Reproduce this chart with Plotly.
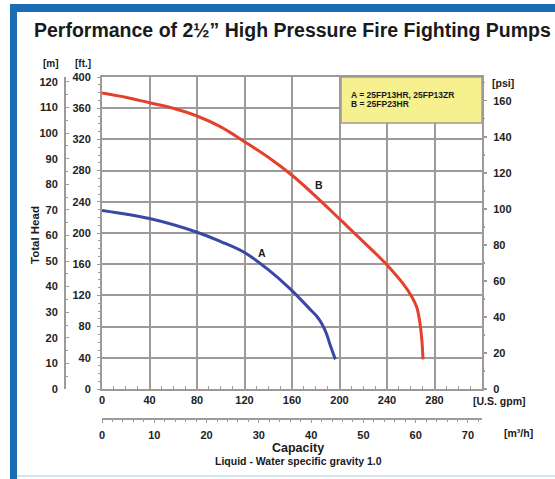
import plotly.graph_objects as go

# ---------------- data ----------------
# Curve A = 25FP13HR, 25FP13ZR   (capacity in U.S. gpm, total head in ft)
gpm_A = [0, 40, 80, 100, 120, 140, 158, 176, 181, 185, 189, 192, 196.5]
ft_A = [229, 218.5, 201, 189, 175, 153, 129, 101, 93, 84, 71, 57, 38]

# Curve B = 25FP23HR
gpm_B = [0, 20, 40, 60, 80, 100, 120, 140, 160, 180, 200, 220, 240, 253.5, 261, 265, 267.5, 269.4, 270.3]
ft_B = [379.5, 374, 367, 360, 350, 336, 317, 297, 274, 247, 218, 189, 159, 135, 118, 105, 87, 62, 38]

gpm_ticks = [0, 40, 80, 120, 160, 200, 240, 280]
ft_ticks = [0, 40, 80, 120, 160, 200, 240, 280, 320, 360, 400]
m_ticks = [0, 10, 20, 30, 40, 50, 60, 70, 80, 90, 100, 110, 120]
psi_ticks = [0, 20, 40, 60, 80, 100, 120, 140, 160]
m3h_ticks = [0, 10, 20, 30, 40, 50, 60, 70]

legend_lines = ["A = 25FP13HR, 25FP13ZR", "B = 25FP23HR"]

GPM_MAX = 320.0
FT_MAX = 400.0
FT_PER_M = 3.28084
FT_PER_PSI = 2.31
GPM_PER_M3H = 4.402868

# ---------------- layout helpers (pixel -> paper) ----------------
W, H = 555, 479
def fx(p):
    return p / W
def fy(p):
    return 1 - p / H

GRID = "rgb(158,154,154)"
FONT = "Liberation Sans, Arial, sans-serif"
tickfont = dict(family=FONT, size=11, color="#222", weight="bold")

fig = go.Figure()
fig.add_trace(go.Scatter(x=gpm_A, y=ft_A, mode="lines",
                         line=dict(color="#3a48a4", width=3, shape="spline", smoothing=1.0),
                         hoverinfo="skip", showlegend=False))
fig.add_trace(go.Scatter(x=gpm_B, y=ft_B, mode="lines",
                         line=dict(color="#e4402c", width=3, shape="spline", smoothing=1.0),
                         hoverinfo="skip", showlegend=False))
# empty traces to create the secondary axes
fig.add_trace(go.Scatter(x=[], y=[], xaxis="x", yaxis="y2", showlegend=False, hoverinfo="skip"))
fig.add_trace(go.Scatter(x=[], y=[], xaxis="x", yaxis="y3", showlegend=False, hoverinfo="skip"))
fig.add_trace(go.Scatter(x=[], y=[], xaxis="x2", yaxis="y", showlegend=False, hoverinfo="skip"))

xd = [fx(102), fx(482)]
yd = [fy(389), fy(77)]

fig.update_layout(
    width=W, height=H,
    margin=dict(l=0, r=0, t=0, b=0),
    paper_bgcolor="white", plot_bgcolor="white",
    showlegend=False,
    xaxis=dict(domain=xd, range=[0, GPM_MAX], anchor="y", tickvals=gpm_ticks,
               showgrid=True, gridcolor=GRID, gridwidth=2, zeroline=False,
               showline=True, linecolor=GRID, linewidth=2, mirror=True,
               ticks="inside", ticklen=3, tickcolor=GRID, tickfont=tickfont,
               minor=dict(dtick=10, ticks="inside", ticklen=3, tickcolor=GRID, showgrid=False),
               automargin=False, fixedrange=True),
    yaxis=dict(domain=yd, range=[0, FT_MAX], anchor="x", tickvals=ft_ticks,
               showgrid=True, gridcolor=GRID, gridwidth=2, zeroline=False,
               showline=True, linecolor=GRID, linewidth=2, mirror=True,
               ticks="outside", ticklen=3, tickcolor=GRID, tickfont=tickfont,
               minor=dict(dtick=10, ticks="outside", ticklen=2, tickcolor=GRID, showgrid=False),
               ticklabelstandoff=4, automargin=False, fixedrange=True),
    yaxis2=dict(overlaying="y", anchor="free", position=fx(65), side="left",
                range=[0, FT_MAX / FT_PER_M], tickvals=m_ticks, showgrid=False, zeroline=False,
                showline=True, linecolor=GRID, linewidth=2,
                ticks="inside", ticklen=3, tickcolor=GRID, tickfont=tickfont,
                minor=dict(dtick=5, ticks="inside", ticklen=2, tickcolor=GRID),
                ticklabelstandoff=4, automargin=False, fixedrange=True),
    yaxis3=dict(overlaying="y", anchor="x", side="right",
                range=[0, FT_MAX / FT_PER_PSI], tickvals=psi_ticks, showgrid=False, zeroline=False,
                showline=False, ticks="outside", ticklen=4, tickcolor=GRID, tickwidth=1.5, tickfont=tickfont,
                minor=dict(dtick=10, ticks="outside", ticklen=2, tickcolor=GRID),
                ticklabelstandoff=4, automargin=False, fixedrange=True),
    xaxis2=dict(overlaying="x", anchor="free", position=fy(419), side="bottom",
                range=[0, GPM_MAX / GPM_PER_M3H], tickvals=m3h_ticks, showgrid=False, zeroline=False,
                showline=True, linecolor=GRID, linewidth=2,
                ticks="outside", ticklen=3, tickcolor=GRID, tickfont=tickfont,
                minor=dict(dtick=2, ticks="outside", ticklen=2, tickcolor=GRID),
                ticklabelstandoff=3, automargin=False, fixedrange=True),
)

BLUE = "#1a6db4"
shapes = [
    # frame
    dict(type="rect", xref="paper", yref="paper", x0=fx(10), x1=fx(17), y0=0, y1=fy(4),
         fillcolor=BLUE, line_width=0, layer="below"),
    dict(type="rect", xref="paper", yref="paper", x0=fx(10), x1=1.0, y0=fy(12), y1=fy(4),
         fillcolor=BLUE, line_width=0, layer="below"),
    dict(type="line", xref="paper", yref="paper", x0=fx(17), x1=1.0, y0=fy(476), y1=fy(476),
         line=dict(color="#cfe6f6", width=2)),
    # legend box
    dict(type="rect", xref="x domain", yref="y domain", x0=(341 - 102) / 380, x1=1.0,
         y0=(389 - 123) / 312, y1=1.0, fillcolor="#f6f08e", line=dict(color=GRID, width=1.5),
         layer="above"),
]

def ann(text, x, y, size, xanchor="center", yanchor="middle", angle=0, xref="paper", yref="paper"):
    return dict(text=text, x=x, y=y, xref=xref, yref=yref, showarrow=False,
                xanchor=xanchor, yanchor=yanchor, textangle=angle,
                font=dict(family=FONT, size=size, color="#1a1a1a", weight="bold"))

annotations = [
    ann("Performance of 2½\u201d High Pressure Fire Fighting Pumps", fx(32), fy(30), 19.5, xanchor="left"),
    ann("[m]", fx(51), fy(63), 10),
    ann("[ft.]", fx(83), fy(63), 10),
    ann("[psi]", fx(490), fy(83), 10.5, xanchor="left"),
    ann("[U.S. gpm]", fx(471), fy(401), 10.5, xanchor="left"),
    ann("[m\u00b3/h]", fx(502), fy(433), 10.5, xanchor="left"),
    ann("Total Head", fx(35), fy(235), 11.5, angle=-90),
    ann("Capacity", fx(298), fy(448), 12.5),
    ann("Liquid - Water specific gravity 1.0", fx(298), fy(461), 10.5),
    ann("A", 134.5, 175, 10.5, xref="x", yref="y"),
    ann("B", 183, 262, 10.5, xref="x", yref="y"),
    ann(legend_lines[0], (349 - 102) / 380, (389 - 94.5) / 312, 8.5, xanchor="left",
        xref="x domain", yref="y domain"),
    ann(legend_lines[1], (349 - 102) / 380, (389 - 103.5) / 312, 8.5, xanchor="left",
        xref="x domain", yref="y domain"),
]

fig.update_layout(shapes=shapes, annotations=annotations)
fig.write_html("out.html", config=dict(displayModeBar=False, staticPlot=True),
               post_script="document.body.style.margin='0';document.body.style.overflow='hidden';")
